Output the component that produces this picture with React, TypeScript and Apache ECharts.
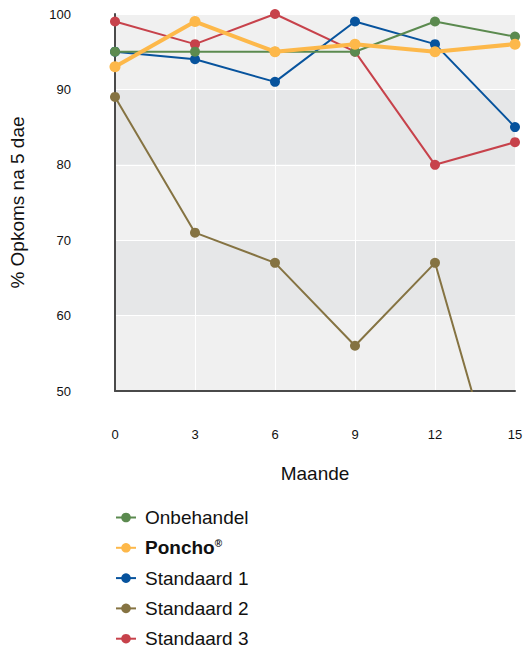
import React, { useEffect, useRef } from "react";
import * as echarts from "echarts";

const months = [0, 3, 6, 9, 12, 15];
const onbehandel = [95, 95, 95, 95, 99, 97];
const poncho = [93, 99, 95, 96, 95, 96];
const standaard1 = [95, 94, 91, 99, 96, 85];
const standaard2 = [89, 71, 67, 56, 67, 30];
const standaard3 = [99, 96, 100, 95, 80, 83];

const FONT = "'Liberation Sans', Arial, Helvetica, sans-serif";

function pairs(vals: number[]) {
  return months.map((m, i) => [m, vals[i]]);
}

export default function App() {
  const ref = useRef<HTMLDivElement>(null);
  useEffect(() => {
    if (!ref.current) return;
    const chart = echarts.init(ref.current, undefined, { renderer: "svg" });
    const mk = (name: string, data: number[], color: string, width: number, size: number, z: number) => ({
      name,
      type: "line",
      data: pairs(data),
      z,
      symbol: "circle",
      symbolSize: size,
      itemStyle: { color },
      lineStyle: { color, width },
      clip: true,
    });
    chart.setOption({
      animation: false,
      textStyle: { fontFamily: FONT },
      grid: { left: 115, right: 11, top: 14, bottom: 258, containLabel: false },
      xAxis: {
        type: "value",
        min: 0,
        max: 15,
        interval: 3,
        name: "Maande",
        nameLocation: "middle",
        nameGap: 73,
        nameTextStyle: { fontSize: 19, color: "#111", fontFamily: FONT },
        axisLine: { show: true, lineStyle: { color: "#4a4a4a", width: 2 } },
        axisTick: { show: false },
        axisLabel: { margin: 37, fontSize: 13, color: "#111", fontFamily: FONT },
        splitLine: { show: true, lineStyle: { color: "#ffffff", width: 1 } },
      },
      yAxis: {
        type: "value",
        min: 50,
        max: 100,
        interval: 10,
        name: "% Opkoms na 5 dae",
        nameLocation: "middle",
        nameGap: 88,
        nameTextStyle: { fontSize: 19, color: "#111", fontFamily: FONT },
        axisLine: { show: true, lineStyle: { color: "#4a4a4a", width: 2 } },
        axisTick: { show: false },
        axisLabel: { margin: 44, fontSize: 13, color: "#111", fontFamily: FONT },
        splitLine: { show: true, lineStyle: { color: "#ffffff", width: 1 } },
        splitArea: { show: true, areaStyle: { color: ["#f0f0f0", "#e6e7e8"] } },
      },
      legend: {
        orient: "vertical",
        left: 115,
        top: 508,
        padding: 0,
        itemWidth: 20,
        itemHeight: 12,
        itemGap: 11.3,
        textStyle: {
          fontSize: 19,
          color: "#111",
          fontFamily: FONT,
          padding: [0, 0, 0, 4],
          rich: {
            b: { fontSize: 19, fontWeight: "bold", color: "#111", fontFamily: FONT },
            s: { fontSize: 10, fontWeight: "bold", color: "#111", fontFamily: FONT, padding: [0, 0, 8, 0] },
          },
        },
        formatter: (name: string) => (name === "Poncho" ? "{b|Poncho}{s|®}" : name),
        data: ["Onbehandel", "Poncho", "Standaard 1", "Standaard 2", "Standaard 3"],
      },
      series: [
        mk("Onbehandel", onbehandel, "#5b8a4f", 2, 10, 4),
        mk("Poncho", poncho, "#fdb84a", 4, 11, 6),
        mk("Standaard 1", standaard1, "#07539d", 2, 10, 3),
        mk("Standaard 2", standaard2, "#857342", 2, 10, 2),
        mk("Standaard 3", standaard3, "#c7424b", 2, 10, 2),
      ],
    });
    return () => chart.dispose();
  }, []);
  return (
    <div
      ref={ref}
      style={{ position: "fixed", left: 0, top: 0, width: 526, height: 649, background: "#fff" }}
    />
  );
}
